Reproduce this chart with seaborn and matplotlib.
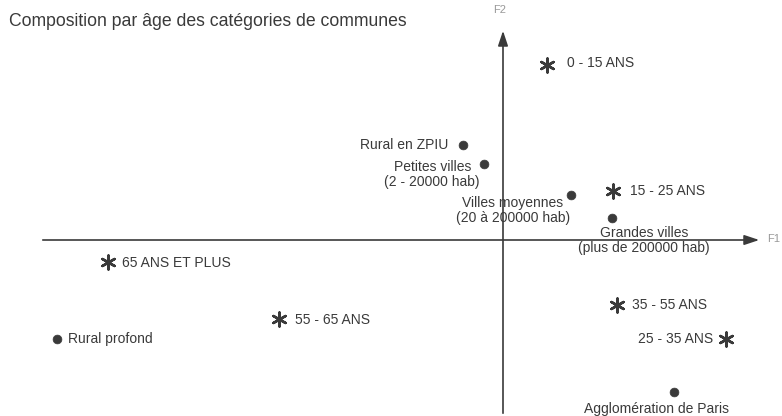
import pandas as pd
import seaborn as sns
import matplotlib.pyplot as plt

# coordinates on the two factorial axes (F1, F2)
ages = ['0 - 15 ANS', '15 - 25 ANS', '25 - 35 ANS', '35 - 55 ANS',
        '55 - 65 ANS', '65 ANS ET PLUS']
ages_f1 = [0.44, 1.10, 2.23, 1.14, -2.24, -3.95]
ages_f2 = [1.75, 0.49, -0.99, -0.65, -0.79, -0.22]

communes = ['Rural en ZPIU', 'Petites villes\n(2 - 20000 hab)',
            'Villes moyennes\n(20 à 200000 hab)',
            'Grandes villes\n(plus de 200000 hab)',
            'Rural profond', 'Agglomération de Paris']
communes_f1 = [-0.40, -0.19, 0.68, 1.09, -4.46, 1.71]
communes_f2 = [0.95, 0.76, 0.45, 0.22, -0.99, -1.52]

sns.set_style('white')
plt.rcParams['font.family'] = ['Liberation Sans', 'DejaVu Sans']

df_age = pd.DataFrame({'label': ages, 'F1': ages_f1, 'F2': ages_f2})
df_com = pd.DataFrame({'label': communes, 'F1': communes_f1, 'F2': communes_f2})

ink = '#3a3a3a'
fig = plt.figure(figsize=(7.82, 4.16), dpi=100)
ax = fig.add_axes([0, 0, 1, 1])
ax.set_xlim(-5.03, 2.79)
ax.set_ylim(-1.76, 2.40)
ax.axis('off')

# axes with arrows
ax.annotate('', xy=(2.59, 0), xytext=(-4.63, 0),
            arrowprops=dict(arrowstyle='-|>,head_length=0.9,head_width=0.3', color=ink, lw=1.2))
ax.annotate('', xy=(0, 2.12), xytext=(0, -1.76),
            arrowprops=dict(arrowstyle='-|>,head_length=0.9,head_width=0.3', color=ink, lw=1.2))
ax.text(2.64, 0.01, 'F1', fontsize=8, color='#999999', va='center', ha='left')
ax.text(-0.03, 2.30, 'F2', fontsize=8, color='#999999', va='center', ha='center')

sns.scatterplot(data=df_age, x='F1', y='F2', marker=(6, 2, 0), s=100,
                color=ink, edgecolor=ink, linewidth=1.8, ax=ax)
sns.scatterplot(data=df_com, x='F1', y='F2', marker='o', s=40,
                color=ink, edgecolor=ink, ax=ax)

age_offsets = [(20, 2, 'left'), (17, 0, 'left'), (-13, 0, 'right'),
               (15, 0, 'left'), (16, -1, 'left'), (14, -1, 'left')]
for lab, x, y, (dx, dy, ha) in zip(ages, ages_f1, ages_f2, age_offsets):
    ax.annotate(lab, (x, y), xytext=(dx, dy), textcoords='offset pixels',
                ha=ha, va='center', fontsize=10, color=ink)

com_offsets = [(-15, 0, 'right', 'center'), (-4, 4, 'right', 'top'),
               (-1, -1, 'right', 'top'), (32, -8, 'center', 'top'),
               (11, 0, 'left', 'center'), (-17, -10, 'center', 'top')]
for lab, x, y, (dx, dy, ha, va) in zip(communes, communes_f1, communes_f2, com_offsets):
    ax.annotate(lab, (x, y), xytext=(dx, dy), textcoords='offset pixels',
                ha=ha, va=va, multialignment='center', fontsize=10,
                color=ink, linespacing=1.1)

fig.text(0.012, 0.948, 'Composition par âge des catégories de communes',
         fontsize=12.7, color=ink, ha='left', va='center')

fig.savefig('out.png', dpi=100)
